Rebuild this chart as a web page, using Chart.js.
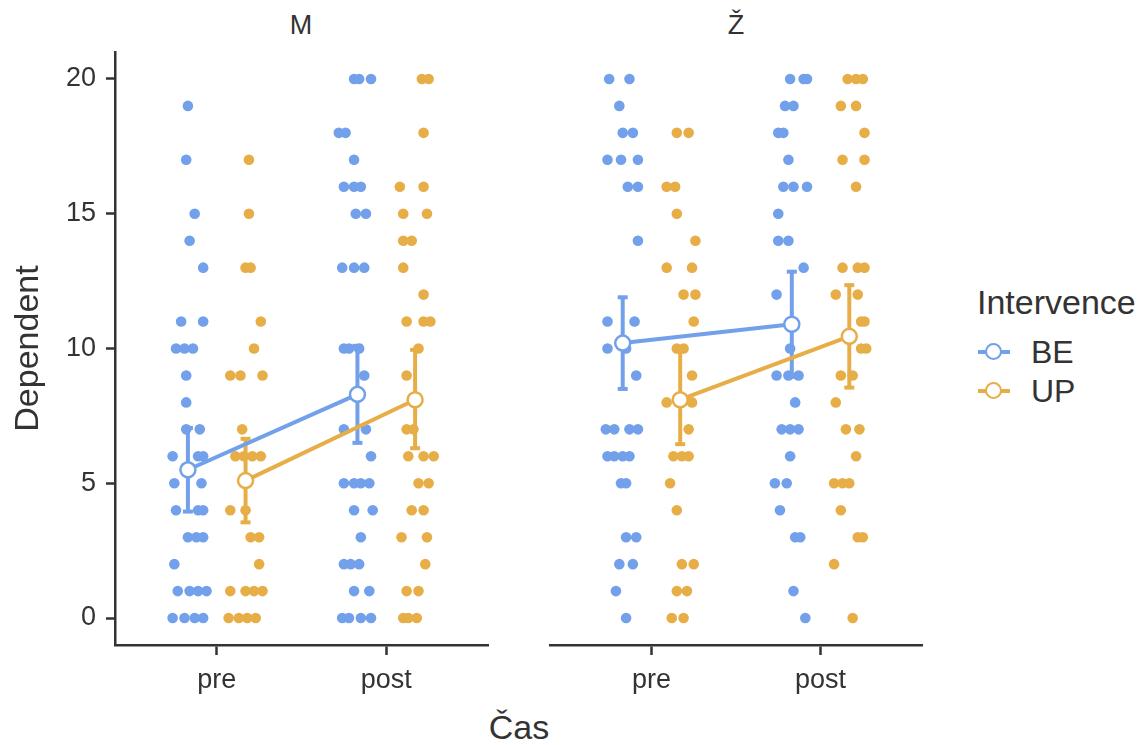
<!DOCTYPE html>
<html lang="cs">
<head>
<meta charset="UTF-8">
<title>Dependent podle času</title>
<script src="https://cdn.jsdelivr.net/npm/chart.js"></script>
<style>
  body { margin: 0; background: #fff; }
  #stage { position: relative; width: 1148px; height: 745px; overflow: hidden;
           font-family: 'Liberation Sans', Arial, Helvetica, sans-serif; color: #333; }
  canvas { position: absolute; }
  .txt { position: absolute; line-height: 1; white-space: nowrap; transform: translate(-50%, -50%); }
  .left { position: absolute; line-height: 1; white-space: nowrap; transform: translateY(-50%); }
  .key { position: absolute; width: 32px; height: 18px; transform: translateY(-50%); }
  .key i { position: absolute; left: 0; top: 7px; width: 32px; height: 4px; }
  .key b { position: absolute; left: 7px; top: 0; width: 13px; height: 13px; border: 2.5px solid; border-radius: 50%; background: #fff; }
</style>
</head>
<body>
<div id="stage">
  <div class="txt" style="left:301px; top:25px; font-size:27px">M</div>
  <div class="txt" style="left:736px; top:25px; font-size:27px">Ž</div>
  <canvas id="chartM" width="500" height="700" style="left:0; top:0"></canvas>
  <canvas id="chartZ" width="400" height="700" style="left:540px; top:0"></canvas>
  <div class="txt" style="left:519px; top:727px; font-size:34px">Čas</div>

  <div class="left" style="left:977px; top:302px; font-size:34px">Intervence</div>
  <div class="key" style="left:978px; top:352px"><i style="background:#72A0EA"></i><b style="border-color:#72A0EA"></b></div>
  <div class="left" style="left:1031px; top:352px; font-size:32px">BE</div>
  <div class="key" style="left:978px; top:391px"><i style="background:#E7AE47"></i><b style="border-color:#E7AE47"></b></div>
  <div class="left" style="left:1031px; top:391px; font-size:32px">UP</div>
</div>
<script>
    // categories
    const timeLabels = ['pre', 'post'];
    const yTicks = [0, 5, 10, 15, 20];

    // raw scores, facet M (jitter = horizontal offset)
    const M_pre_BE_y = [19,17,15,14,13,11,11,10,10,10,9,8,7,7,6,6,6,5,5,4,4,4,3,3,3,2,1,1,1,1,0,0,0,0];
    const M_pre_BE_jit = [0.00,-0.01,0.04,0.01,0.09,-0.04,0.09,-0.07,-0.02,0.03,-0.01,-0.01,-0.01,0.07,-0.09,0.06,0.09,-0.08,0.08,-0.07,0.06,0.09,0.00,0.05,0.09,-0.08,-0.06,0.01,0.06,0.11,-0.09,-0.02,0.04,0.09];
    const M_pre_UP_y = [17,15,13,13,11,10,9,9,9,7,6,6,6,6,4,4,3,3,2,1,1,1,1,0,0,0,0];
    const M_pre_UP_jit = [0.02,0.02,0.00,0.03,0.09,0.05,-0.09,-0.03,0.10,-0.02,-0.06,-0.01,0.04,0.09,-0.09,0.00,0.03,0.08,0.08,-0.09,0.00,0.05,0.10,-0.10,-0.04,0.01,0.06];
    const M_post_BE_y = [20,20,20,18,18,17,16,16,16,15,15,13,13,13,10,10,10,9,7,7,6,5,5,5,5,4,4,3,2,2,2,1,1,0,0,0,0];
    const M_post_BE_jit = [-0.02,0.01,0.08,-0.11,-0.07,-0.02,-0.08,-0.02,0.02,-0.01,0.05,-0.09,-0.02,0.04,-0.08,-0.05,0.01,0.04,-0.08,0.05,0.08,-0.08,-0.02,0.02,0.07,-0.02,0.09,0.02,-0.08,-0.04,0.01,-0.02,0.07,-0.09,-0.05,0.02,0.08];
    const M_post_UP_y = [20,20,18,16,16,15,15,14,14,13,12,11,11,11,10,9,7,7,6,6,6,5,5,4,4,3,3,2,1,1,0,0,0];
    const M_post_UP_jit = [0.04,0.08,0.05,-0.09,0.05,-0.07,0.07,-0.07,-0.02,-0.07,0.05,-0.05,0.05,0.09,0.02,-0.05,-0.05,-0.01,-0.04,0.05,0.11,0.02,0.08,-0.02,0.05,-0.08,0.07,0.06,-0.05,0.02,-0.07,-0.04,0.01];

    // raw scores, facet Ž
    const Z_pre_BE_y = [20,20,19,18,18,17,17,17,16,16,14,11,11,10,10,9,7,7,7,7,6,6,6,6,5,5,3,3,2,2,1,0];
    const Z_pre_BE_jit = [-0.08,0.04,-0.02,0.00,0.06,-0.09,-0.01,0.09,0.03,0.09,0.09,-0.09,0.07,-0.09,0.02,0.08,-0.10,-0.05,0.04,0.09,-0.09,-0.05,0.00,0.04,-0.01,0.02,0.02,0.08,-0.02,0.06,-0.04,0.02];
    const Z_pre_UP_y = [18,18,16,16,15,14,13,13,12,12,11,10,10,9,8,8,7,6,6,6,5,4,2,2,1,1,0,0];
    const Z_pre_UP_jit = [-0.02,0.05,-0.08,-0.03,-0.02,0.09,-0.08,0.07,0.02,0.09,0.08,-0.02,0.02,0.07,-0.08,0.07,0.05,-0.04,0.01,0.05,-0.06,-0.02,0.01,0.08,-0.02,0.04,-0.05,0.02];
    const Z_post_BE_y = [20,20,20,19,19,18,18,17,16,16,16,15,14,14,13,12,10,9,9,9,8,7,7,7,6,5,5,4,3,3,1,0];
    const Z_post_BE_jit = [-0.01,0.07,0.09,-0.04,0.01,-0.08,-0.05,-0.02,-0.05,0.01,0.09,-0.08,-0.08,-0.02,0.07,-0.09,-0.01,-0.09,-0.02,0.04,0.02,-0.06,-0.01,0.04,-0.01,-0.10,-0.03,-0.07,0.02,0.05,0.01,0.08];
    const Z_post_UP_y = [20,20,20,19,19,18,17,17,16,13,13,13,12,12,11,11,10,10,9,9,8,7,7,6,5,5,5,4,3,3,2,0];
    const Z_post_UP_jit = [-0.01,0.04,0.08,-0.05,0.04,0.09,-0.04,0.09,0.04,-0.04,0.05,0.09,-0.08,0.05,0.07,0.09,0.07,0.10,-0.05,0.02,-0.08,-0.02,0.06,0.04,-0.09,-0.04,0.00,-0.05,0.05,0.08,-0.09,0.02];

    // means and 95% CI per facet [pre, post]
    const meanBE_M = [5.5, 8.3],  loBE_M = [3.95, 6.5], hiBE_M = [7.05, 10.1];
    const meanUP_M = [5.1, 8.1],  loUP_M = [3.55, 6.3], hiUP_M = [6.65, 9.95];
    const meanBE_Z = [10.2, 10.9], loBE_Z = [8.5, 8.95], hiBE_Z = [11.9, 12.85];
    const meanUP_Z = [8.1, 10.45], loUP_Z = [6.45, 8.55], hiUP_Z = [9.9, 12.35];

    const colours = { BE: '#72A0EA', UP: '#E7AE47' };
    const dodge = { BE: -0.17, UP: 0.17 };
    const ink = '#333333';
    Chart.defaults.font.family = "'Liberation Sans', Arial, Helvetica, sans-serif";
    Chart.defaults.color = ink;

    function points(g, sets) {
        // sets: [[yValues, jitter], ...] in time order
        const out = [];
        sets.forEach(([ys, jit], t) => {
            ys.forEach((v, i) => out.push({ x: t + 1 + dodge[g] + jit[i], y: v }));
        });
        return out;
    }

    function buildDatasets(groups) {
        const meanSets = [], errSets = [], pointSets = [];
        for (const g of ['BE', 'UP']) {
            const d = groups[g];
            const c = colours[g];
            meanSets.push({
                type: 'line',
                data: d.mean.map((m, t) => ({ x: t + 1 + dodge[g], y: m })),
                borderColor: c, borderWidth: 4,
                pointRadius: 7.5, pointBackgroundColor: '#fff',
                pointBorderColor: c, pointBorderWidth: 2.5
            });
            d.mean.forEach((m, t) => {
                errSets.push({
                    type: 'line',
                    data: [{ x: t + 1 + dodge[g], y: d.lo[t] }, { x: t + 1 + dodge[g], y: d.hi[t] }],
                    borderColor: c, borderWidth: 4,
                    pointStyle: 'line', pointRadius: 5,
                    pointBorderColor: c, pointBorderWidth: 4
                });
            });
            pointSets.push({
                type: 'scatter',
                data: points(g, d.raw),
                backgroundColor: c, pointBackgroundColor: c,
                pointRadius: 5.3, pointBorderWidth: 0
            });
        }
        // first dataset is painted last (on top)
        return [...meanSets, ...errSets, ...pointSets];
    }

    function renderFacet(id, groups, showY, padding) {
        const ctx = document.getElementById(id).getContext('2d');
        return new Chart(ctx, {
            type: 'scatter',
            data: { datasets: buildDatasets(groups) },
            options: {
                responsive: false,
                animation: false,
                devicePixelRatio: 1,
                layout: { padding: padding },
                plugins: { legend: { display: false }, tooltip: { enabled: false } },
                scales: {
                    x: {
                        type: 'linear', min: 0.4, max: 2.6,
                        afterBuildTicks: s => { s.ticks = timeLabels.map((_, i) => ({ value: i + 1 })); },
                        afterFit: s => { s.height = 55; },
                        ticks: {
                            callback: v => timeLabels[v - 1],
                            font: { size: 27 }, color: ink, padding: 9,
                            autoSkip: false, maxRotation: 0
                        },
                        grid: { drawOnChartArea: false, drawTicks: true, tickLength: 10,
                                tickColor: ink, tickWidth: 2.5 },
                        border: { display: true, color: ink, width: 2.5 }
                    },
                    y: {
                        type: 'linear', min: -1, max: 21,
                        display: showY,
                        afterBuildTicks: s => { s.ticks = yTicks.map(v => ({ value: v })); },
                        afterFit: s => { s.width = showY ? 115 : 0; },
                        title: { display: true, text: 'Dependent', color: ink,
                                 font: { size: 34 }, padding: { top: 8, bottom: 0 } },
                        ticks: { font: { size: 27 }, color: ink, padding: 10 },
                        grid: { drawOnChartArea: false, drawTicks: true, tickLength: 9,
                                tickColor: ink, tickWidth: 2.5 },
                        border: { display: true, color: ink, width: 2.5 }
                    }
                }
            }
        });
    }

    renderFacet('chartM', {
        BE: { raw: [[M_pre_BE_y, M_pre_BE_jit], [M_post_BE_y, M_post_BE_jit]], mean: meanBE_M, lo: loBE_M, hi: hiBE_M },
        UP: { raw: [[M_pre_UP_y, M_pre_UP_jit], [M_post_UP_y, M_post_UP_jit]], mean: meanUP_M, lo: loUP_M, hi: hiUP_M }
    }, true, { top: 52, right: 12, bottom: 0, left: 0 });

    renderFacet('chartZ', {
        BE: { raw: [[Z_pre_BE_y, Z_pre_BE_jit], [Z_post_BE_y, Z_post_BE_jit]], mean: meanBE_Z, lo: loBE_Z, hi: hiBE_Z },
        UP: { raw: [[Z_pre_UP_y, Z_pre_UP_jit], [Z_post_UP_y, Z_post_UP_jit]], mean: meanUP_Z, lo: loUP_Z, hi: hiUP_Z }
    }, false, { top: 52, right: 18, bottom: 0, left: 10 });
</script>
</body>
</html>
